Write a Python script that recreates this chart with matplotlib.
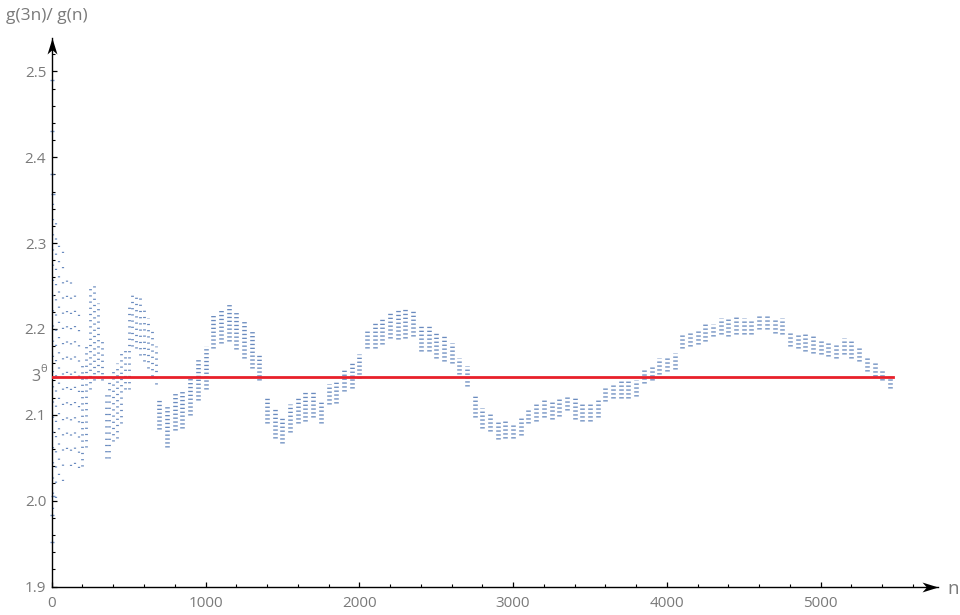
import numpy as np
import matplotlib
matplotlib.use("Agg")
import matplotlib.pyplot as plt
from matplotlib.path import Path

plt.rcParams['font.family'] = ['Open Sans', 'DejaVu Sans']
plt.rcParams['lines.scale_dashes'] = False

# ---------------- data ----------------
# first few isolated points very close to n = 0
first_n = [1, 2, 3, 4, 5, 6, 8]
first_y = [2.49, 1.952, 2.43, 2.38, 1.983, 2.357, 2.005]

# early, sparse part of the scatter: ranges of g(3n)/g(n) per column of n
early_n = [10, 25, 50, 75, 100, 125, 150, 175]
early_lo = [1.99, 2.003, 2.03, 2.023, 2.06, 2.04, 2.043, 2.038]
early_hi = [2.35, 2.326, 2.30, 2.30, 2.26, 2.267, 2.24, 2.22]

mid_n = [200, 225, 250, 275, 300, 325, 350, 375, 400, 425, 450, 475,
         500, 525, 550, 575, 600, 625, 650, 675]
mid_lo = [2.04, 2.062, 2.13, 2.14, 2.143, 2.14, 2.05, 2.05, 2.07, 2.073,
          2.09, 2.13, 2.13, 2.18, 2.178, 2.17, 2.163, 2.155, 2.145, 2.136]
mid_hi = [2.16, 2.18, 2.25, 2.255, 2.23, 2.19, 2.124, 2.14, 2.155, 2.16,
          2.175, 2.175, 2.225, 2.24, 2.24, 2.236, 2.225, 2.213, 2.20, 2.18]

# dense band, n = 700 ... 5450 every 50
late_n = np.arange(700, 5451, 50)
late_lo = [2.084, 2.062, 2.082, 2.085, 2.100, 2.117, 2.130, 2.178, 2.184, 2.186,
           2.177, 2.166, 2.155, 2.140, 2.090, 2.073, 2.067, 2.080, 2.091, 2.093,
           2.097, 2.090, 2.113, 2.114, 2.128, 2.131, 2.143, 2.178, 2.178, 2.183,
           2.190, 2.188, 2.190, 2.192, 2.174, 2.174, 2.166, 2.163, 2.160, 2.148,
           2.134, 2.097, 2.085, 2.081, 2.072, 2.073, 2.073, 2.076, 2.091, 2.093,
           2.097, 2.095, 2.099, 2.105, 2.095, 2.093, 2.093, 2.097, 2.116, 2.119,
           2.120, 2.120, 2.122, 2.137, 2.140, 2.148, 2.151, 2.153, 2.178, 2.180,
           2.183, 2.186, 2.192, 2.194, 2.192, 2.194, 2.194, 2.194, 2.200, 2.200,
           2.195, 2.194, 2.180, 2.178, 2.174, 2.172, 2.171, 2.169, 2.166, 2.171,
           2.166, 2.163, 2.151, 2.145, 2.140, 2.131]
late_hi = [2.120, 2.110, 2.126, 2.130, 2.145, 2.166, 2.180, 2.217, 2.224, 2.229,
           2.221, 2.209, 2.200, 2.171, 2.122, 2.108, 2.099, 2.113, 2.122, 2.126,
           2.128, 2.116, 2.136, 2.140, 2.153, 2.160, 2.171, 2.198, 2.209, 2.213,
           2.219, 2.223, 2.223, 2.221, 2.203, 2.203, 2.195, 2.194, 2.184, 2.166,
           2.157, 2.122, 2.108, 2.102, 2.093, 2.093, 2.091, 2.097, 2.108, 2.114,
           2.119, 2.116, 2.120, 2.122, 2.120, 2.114, 2.114, 2.119, 2.131, 2.136,
           2.140, 2.140, 2.140, 2.153, 2.157, 2.166, 2.169, 2.172, 2.194, 2.198,
           2.200, 2.206, 2.206, 2.213, 2.213, 2.215, 2.213, 2.211, 2.217, 2.217,
           2.213, 2.213, 2.198, 2.195, 2.194, 2.192, 2.188, 2.184, 2.183, 2.190,
           2.186, 2.178, 2.169, 2.160, 2.153, 2.145]

ref_value = 2.1435      # 3^theta
ref_end = 5470

x_ticks = [0, 1000, 2000, 3000, 4000, 5000]
y_ticks = [1.9, 2.0, 2.1, 2.2, 2.3, 2.4, 2.5]
y_ticklabels = ['1.9', '2.0', '2.1', '2.2', '2.3', '2.4', '2.5']

# ---------------- figure ----------------
PT = 0.72  # points per pixel at dpi 100
dot_color = '#5a7fb8'
label_color = '#7a7a7a'

fig = plt.figure(figsize=(9.6, 6.15), dpi=100)
ax = fig.add_axes([51.7 / 960, 1 - 586.5 / 615, (938 - 51.7) / 960, (586.5 - 37.7) / 615])
ax.set_xlim(0, (938 - 51.7) / 0.1538)
ax.set_ylim(1.9, 1.9 + (586.5 - 37.7) / 858.6)

ax.vlines(early_n, early_lo, early_hi, colors=dot_color, linewidth=2.2 * PT,
          linestyles=[(0, (1.2 * PT, 14 * PT))], alpha=0.9)
ax.vlines(mid_n, mid_lo, mid_hi, colors=dot_color, linewidth=2.8 * PT,
          linestyles=[(0, (1.2 * PT, 5 * PT))], alpha=0.9)
ax.vlines(late_n, late_lo, late_hi, colors=dot_color, linewidth=4.6 * PT,
          linestyles=[(0, (1.3 * PT, 2.6 * PT))], alpha=0.9)
ax.plot(first_n, first_y, linestyle='none', marker='_', markersize=2.5,
        color=dot_color, markeredgewidth=1.0, alpha=0.85, clip_on=False)

ax.plot([0, ref_end], [ref_value, ref_value], color='#e8202a', linewidth=2.0, zorder=5)

# spines / ticks
for s in ['top', 'right']:
    ax.spines[s].set_visible(False)
for s in ['left', 'bottom']:
    ax.spines[s].set_color('black')
    ax.spines[s].set_linewidth(1.0)

ax.set_xticks(x_ticks)
ax.set_xticklabels([str(v) for v in x_ticks])
ax.set_xticks(np.arange(0, 5601, 200), minor=True)
ax.set_yticks(y_ticks + [ref_value])
ax.set_yticklabels(y_ticklabels + [''])
ax.set_yticks(np.arange(1.9, 2.521, 0.02), minor=True)
ax.tick_params(axis='both', which='major', direction='in', length=5 * PT, width=0.9,
               color='black', labelsize=11, labelcolor=label_color)
ax.tick_params(axis='both', which='minor', direction='in', length=3 * PT, width=0.8,
               color='black')
ax.tick_params(axis='x', which='major', pad=7)
ax.tick_params(axis='y', which='major', pad=4)

# 3^theta label
fig.text(40.5 / 960, 1 - 377 / 615, '3', ha='right', va='center', fontsize=11.5,
         color=label_color)
fig.text(40.8 / 960, 1 - 369.5 / 615, 'θ', ha='left', va='center', fontsize=8,
         color=label_color)

# arrows at the axis ends
arrow_x = Path([(0, 0), (-2, 0.62), (-1.45, 0), (-2, -0.62), (0, 0)],
               [Path.MOVETO, Path.LINETO, Path.LINETO, Path.LINETO, Path.CLOSEPOLY])
arrow_y = Path([(0, 0), (0.62, -2), (0, -1.45), (-0.62, -2), (0, 0)],
               [Path.MOVETO, Path.LINETO, Path.LINETO, Path.LINETO, Path.CLOSEPOLY])
ax.plot([1], [0], marker=arrow_x, markersize=32 * PT, color='black', mew=0,
        transform=ax.transAxes, clip_on=False, zorder=6)
ax.plot([0], [1], marker=arrow_y, markersize=32 * PT, color='black', mew=0,
        transform=ax.transAxes, clip_on=False, zorder=6)

# axis labels
fig.text(6 / 960, 1 - 16 / 615, 'g(3n)/ g(n)', ha='left', va='center', fontsize=12.5,
         color=label_color)
fig.text(947 / 960, 1 - 589 / 615, 'n', ha='left', va='center', fontsize=13.5,
         color=label_color)

fig.savefig('out.png', dpi=100)
